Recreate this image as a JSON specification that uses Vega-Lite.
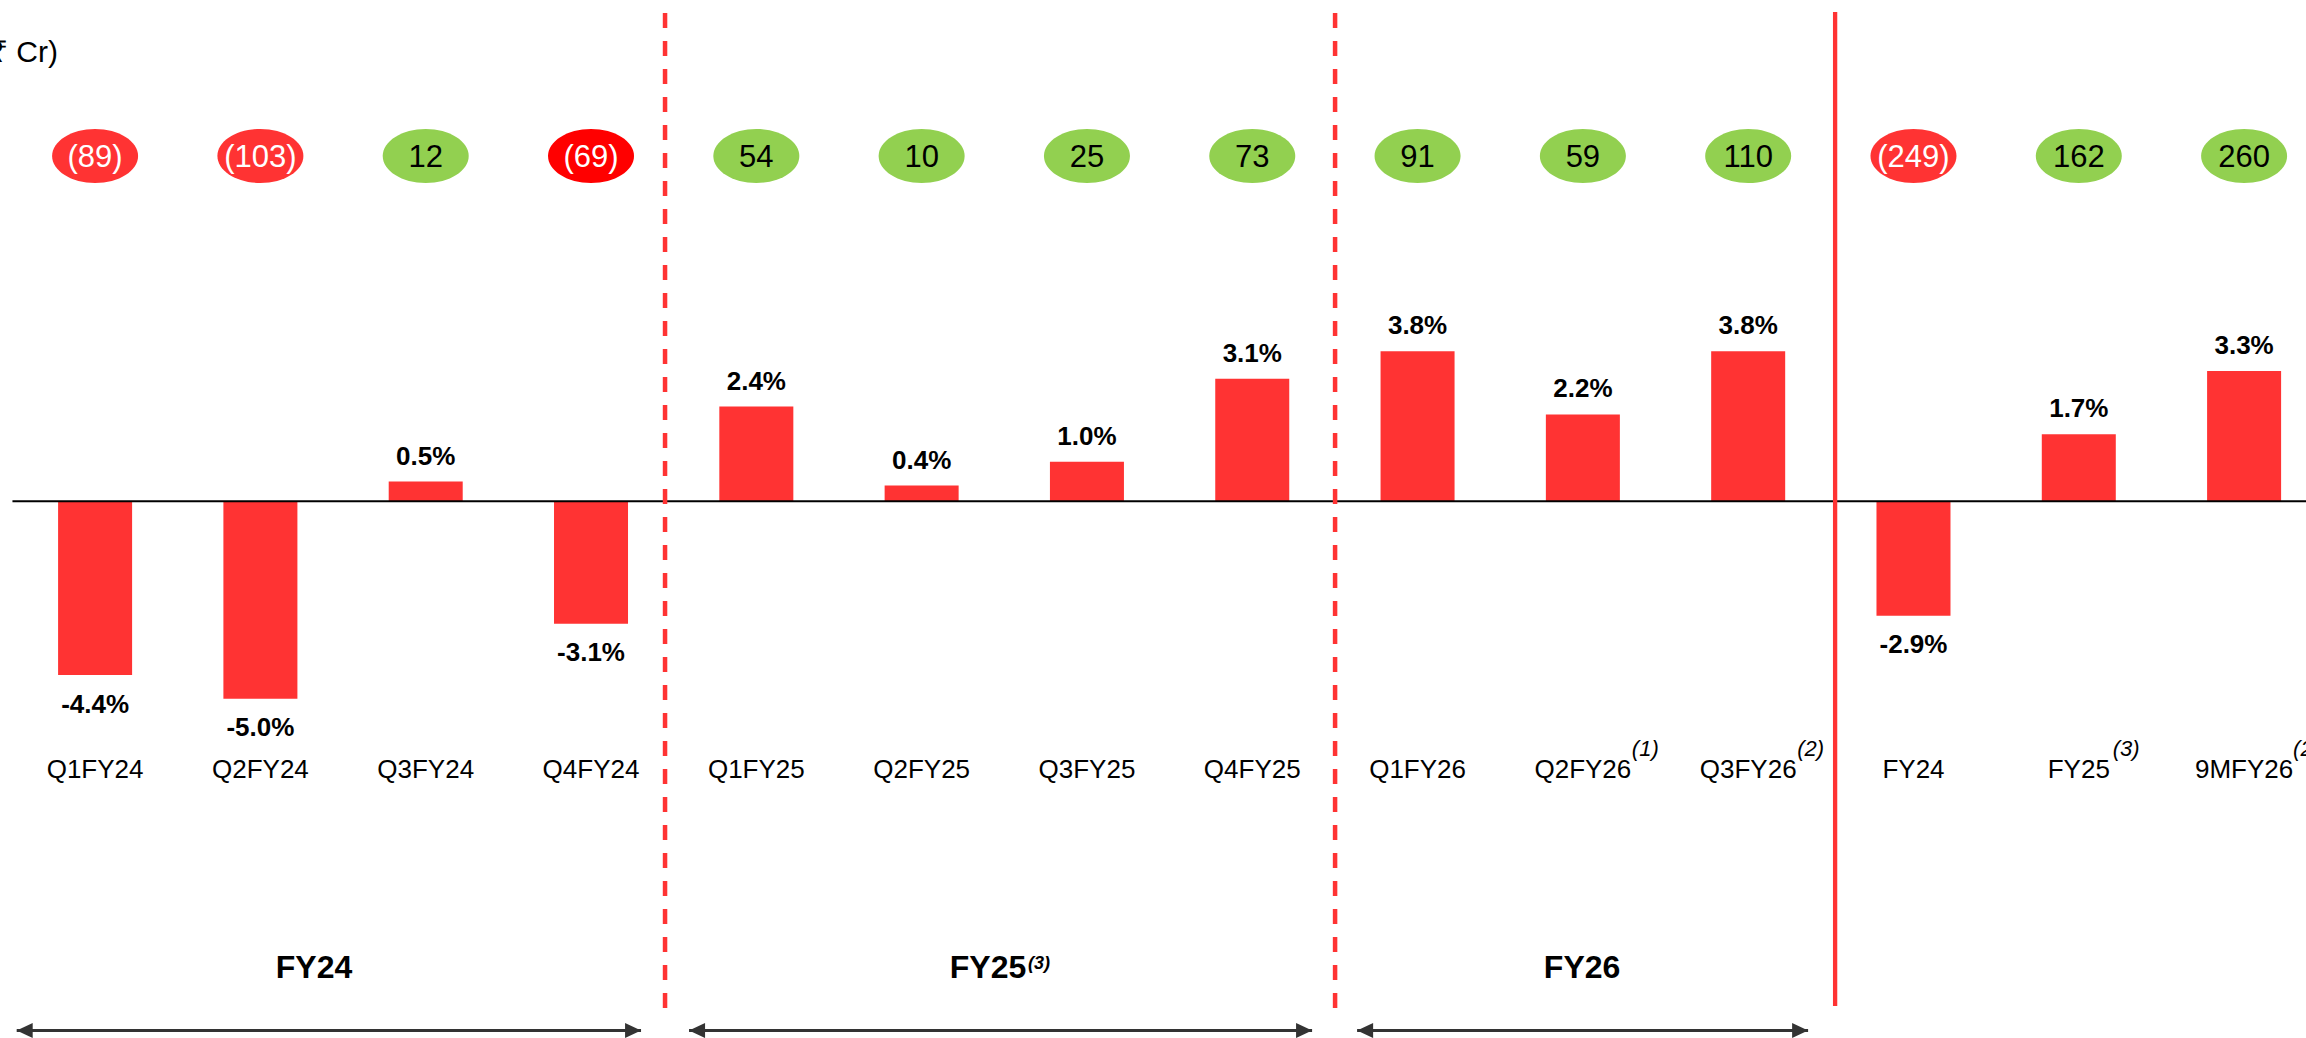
{
  "$schema": "https://vega.github.io/schema/vega-lite/v6.json",
  "width": 2306,
  "height": 1038,
  "autosize": {"type": "none"},
  "padding": 0,
  "background": "white",
  "config": {
    "view": {"stroke": null},
    "font": "Liberation Sans, Arial, sans-serif",
    "locale": {"number": {"decimal": ".", "thousands": ",", "grouping": [3], "currency": ["₹", ""], "minus": "-"}}
  },
  "datasets": {
    "quarters": [
      {"cat": "Q1FY24", "margin": -0.044, "ebitda": -89, "note": null},
      {"cat": "Q2FY24", "margin": -0.050, "ebitda": -103, "note": null},
      {"cat": "Q3FY24", "margin": 0.005, "ebitda": 12, "note": null},
      {"cat": "Q4FY24", "margin": -0.031, "ebitda": -69, "note": null},
      {"cat": "Q1FY25", "margin": 0.024, "ebitda": 54, "note": null},
      {"cat": "Q2FY25", "margin": 0.004, "ebitda": 10, "note": null},
      {"cat": "Q3FY25", "margin": 0.010, "ebitda": 25, "note": null},
      {"cat": "Q4FY25", "margin": 0.031, "ebitda": 73, "note": null},
      {"cat": "Q1FY26", "margin": 0.038, "ebitda": 91, "note": null},
      {"cat": "Q2FY26", "margin": 0.022, "ebitda": 59, "note": "(1)"},
      {"cat": "Q3FY26", "margin": 0.038, "ebitda": 110, "note": "(2)"},
      {"cat": "FY24", "margin": -0.029, "ebitda": -249, "note": null},
      {"cat": "FY25", "margin": 0.017, "ebitda": 162, "note": "(3)"},
      {"cat": "9MFY26", "margin": 0.033, "ebitda": 260, "note": "(2)"}
    ],
    "periods": [
      {"period": "FY24", "sup": null, "from": 0.0257, "to": 3.8025, "mid": 1.8243},
      {"period": "FY25", "sup": "(3)", "from": 4.0928, "to": 7.8618, "mid": 5.9017},
      {"period": "FY26", "sup": null, "from": 8.1341, "to": 10.8623, "mid": 9.4952}
    ],
    "dividers": [
      {"at": 3.9477, "kind": "dashed"},
      {"at": 8.0009, "kind": "dashed"},
      {"at": 11.0257, "kind": "solid"}
    ]
  },
  "resolve": {"scale": {"x": "independent"}},
  "layer": [
    {
      "data": {"name": "quarters"},
      "mark": {"type": "bar", "color": "#FF3333"},
      "encoding": {
        "x": {"field": "cat", "type": "nominal", "sort": null, "axis": null,
              "scale": {"type": "band", "domain": ["Q1FY24", "Q2FY24", "Q3FY24", "Q4FY24", "Q1FY25", "Q2FY25", "Q3FY25", "Q4FY25", "Q1FY26", "Q2FY26", "Q3FY26", "FY24", "FY25", "9MFY26"],
                        "paddingInner": 0.5523, "paddingOuter": 0.251, "align": 0.7}},
        "y": {"field": "margin", "type": "quantitative", "axis": null,
              "scale": {"domain": [-0.13587, 0.12691], "nice": false, "zero": false}},
        "y2": {"datum": 0}
      }
    },
    {
      "data": {"values": [{}]},
      "mark": {"type": "rule", "color": "#000000", "strokeWidth": 2},
      "encoding": {
        "x": {"datum": 0, "type": "quantitative", "axis": null,
              "scale": {"domain": [-0.07531, 13.8742], "nice": false, "zero": false}},
        "x2": {"datum": 13.8742},
        "y": {"datum": 0, "type": "quantitative", "axis": null,
              "scale": {"domain": [-0.13587, 0.12691], "nice": false, "zero": false}}
      }
    },
    {
      "data": {"name": "dividers"},
      "transform": [{"filter": "datum.kind === 'dashed'"}],
      "mark": {"type": "rule", "color": "#FF3333", "strokeWidth": 4.5, "strokeDash": [15, 13]},
      "encoding": {
        "x": {"field": "at", "type": "quantitative", "axis": null,
              "scale": {"domain": [-0.07531, 13.8742], "nice": false, "zero": false}},
        "y": {"datum": 0.12362, "type": "quantitative", "axis": null,
              "scale": {"domain": [-0.13587, 0.12691], "nice": false, "zero": false}},
        "y2": {"datum": -0.12853}
      }
    },
    {
      "data": {"name": "dividers"},
      "transform": [{"filter": "datum.kind === 'solid'"}],
      "mark": {"type": "rule", "color": "#FF3333", "strokeWidth": 4.3},
      "encoding": {
        "x": {"field": "at", "type": "quantitative", "axis": null,
              "scale": {"domain": [-0.07531, 13.8742], "nice": false, "zero": false}},
        "y": {"datum": 0.12387, "type": "quantitative", "axis": null,
              "scale": {"domain": [-0.13587, 0.12691], "nice": false, "zero": false}},
        "y2": {"datum": -0.12777}
      }
    },
    {
      "data": {"name": "quarters"},
      "transform": [{"filter": "datum.margin >= 0"}],
      "mark": {"type": "text", "fontSize": 26, "fontWeight": "bold", "baseline": "alphabetic", "align": "center", "dy": -17, "color": "#000000"},
      "encoding": {
        "x": {"field": "cat", "type": "nominal", "sort": null, "axis": null,
              "scale": {"type": "band", "domain": ["Q1FY24", "Q2FY24", "Q3FY24", "Q4FY24", "Q1FY25", "Q2FY25", "Q3FY25", "Q4FY25", "Q1FY26", "Q2FY26", "Q3FY26", "FY24", "FY25", "9MFY26"],
                        "paddingInner": 0.5523, "paddingOuter": 0.251, "align": 0.7}},
        "y": {"field": "margin", "type": "quantitative", "axis": null,
              "scale": {"domain": [-0.13587, 0.12691], "nice": false, "zero": false}},
        "text": {"field": "margin", "type": "quantitative", "format": ".1%"}
      }
    },
    {
      "data": {"name": "quarters"},
      "transform": [{"filter": "datum.margin < 0"}],
      "mark": {"type": "text", "fontSize": 26, "fontWeight": "bold", "baseline": "alphabetic", "align": "center", "dy": 37.5, "color": "#000000"},
      "encoding": {
        "x": {"field": "cat", "type": "nominal", "sort": null, "axis": null,
              "scale": {"type": "band", "domain": ["Q1FY24", "Q2FY24", "Q3FY24", "Q4FY24", "Q1FY25", "Q2FY25", "Q3FY25", "Q4FY25", "Q1FY26", "Q2FY26", "Q3FY26", "FY24", "FY25", "9MFY26"],
                        "paddingInner": 0.5523, "paddingOuter": 0.251, "align": 0.7}},
        "y": {"field": "margin", "type": "quantitative", "axis": null,
              "scale": {"domain": [-0.13587, 0.12691], "nice": false, "zero": false}},
        "text": {"field": "margin", "type": "quantitative", "format": ".1%"}
      }
    },
    {
      "data": {"name": "quarters"},
      "mark": {"type": "text", "fontSize": 26, "baseline": "alphabetic", "align": "center", "color": "#000000"},
      "encoding": {
        "x": {"field": "cat", "type": "nominal", "sort": null, "axis": null,
              "scale": {"type": "band", "domain": ["Q1FY24", "Q2FY24", "Q3FY24", "Q4FY24", "Q1FY25", "Q2FY25", "Q3FY25", "Q4FY25", "Q1FY26", "Q2FY26", "Q3FY26", "FY24", "FY25", "9MFY26"],
                        "paddingInner": 0.5523, "paddingOuter": 0.251, "align": 0.7}},
        "y": {"datum": -0.07005, "type": "quantitative", "axis": null,
              "scale": {"domain": [-0.13587, 0.12691], "nice": false, "zero": false}},
        "text": {"field": "cat", "type": "nominal"}
      }
    },
    {
      "data": {"name": "quarters"},
      "transform": [{"filter": "datum.note != null && datum.cat !== 'FY25'"}],
      "mark": {"type": "text", "fontSize": 22, "fontStyle": "italic", "baseline": "alphabetic", "align": "left", "dx": 49, "color": "#000000"},
      "encoding": {
        "x": {"field": "cat", "type": "nominal", "sort": null, "axis": null,
              "scale": {"type": "band", "domain": ["Q1FY24", "Q2FY24", "Q3FY24", "Q4FY24", "Q1FY25", "Q2FY25", "Q3FY25", "Q4FY25", "Q1FY26", "Q2FY26", "Q3FY26", "FY24", "FY25", "9MFY26"],
                        "paddingInner": 0.5523, "paddingOuter": 0.251, "align": 0.7}},
        "y": {"datum": -0.06448, "type": "quantitative", "axis": null,
              "scale": {"domain": [-0.13587, 0.12691], "nice": false, "zero": false}},
        "text": {"field": "note", "type": "nominal"}
      }
    },
    {
      "data": {"name": "quarters"},
      "transform": [{"filter": "datum.note != null && datum.cat === 'FY25'"}],
      "mark": {"type": "text", "fontSize": 22, "fontStyle": "italic", "baseline": "alphabetic", "align": "left", "dx": 34, "color": "#000000"},
      "encoding": {
        "x": {"field": "cat", "type": "nominal", "sort": null, "axis": null,
              "scale": {"type": "band", "domain": ["Q1FY24", "Q2FY24", "Q3FY24", "Q4FY24", "Q1FY25", "Q2FY25", "Q3FY25", "Q4FY25", "Q1FY26", "Q2FY26", "Q3FY26", "FY24", "FY25", "9MFY26"],
                        "paddingInner": 0.5523, "paddingOuter": 0.251, "align": 0.7}},
        "y": {"datum": -0.06448, "type": "quantitative", "axis": null,
              "scale": {"domain": [-0.13587, 0.12691], "nice": false, "zero": false}},
        "text": {"field": "note", "type": "nominal"}
      }
    },
    {
      "data": {"name": "quarters"},
      "mark": {"type": "point", "filled": true, "opacity": 1, "strokeWidth": 0, "size": 7396,
               "shape": "M-1,0A1,0.628,0,1,1,1,0A1,0.628,0,1,1,-1,0Z"},
      "encoding": {
        "x": {"field": "cat", "type": "nominal", "sort": null, "axis": null,
              "scale": {"type": "band", "domain": ["Q1FY24", "Q2FY24", "Q3FY24", "Q4FY24", "Q1FY25", "Q2FY25", "Q3FY25", "Q4FY25", "Q1FY26", "Q2FY26", "Q3FY26", "FY24", "FY25", "9MFY26"],
                        "paddingInner": 0.5523, "paddingOuter": 0.251, "align": 0.7}},
        "y": {"datum": 0.08742, "type": "quantitative", "axis": null,
              "scale": {"domain": [-0.13587, 0.12691], "nice": false, "zero": false}},
        "fill": {
          "condition": [
            {"test": "datum.cat === 'Q4FY24'", "value": "#FF0000"},
            {"test": "datum.ebitda < 0", "value": "#FF3333"}
          ],
          "value": "#92D050"
        }
      }
    },
    {
      "data": {"name": "quarters"},
      "mark": {"type": "text", "fontSize": 31, "baseline": "alphabetic", "align": "center"},
      "encoding": {
        "x": {"field": "cat", "type": "nominal", "sort": null, "axis": null,
              "scale": {"type": "band", "domain": ["Q1FY24", "Q2FY24", "Q3FY24", "Q4FY24", "Q1FY25", "Q2FY25", "Q3FY25", "Q4FY25", "Q1FY26", "Q2FY26", "Q3FY26", "FY24", "FY25", "9MFY26"],
                        "paddingInner": 0.5523, "paddingOuter": 0.251, "align": 0.7}},
        "y": {"datum": 0.08461, "type": "quantitative", "axis": null,
              "scale": {"domain": [-0.13587, 0.12691], "nice": false, "zero": false}},
        "text": {"field": "ebitda", "type": "quantitative", "format": "(d"},
        "color": {"condition": {"test": "datum.ebitda < 0", "value": "#FFFFFF"}, "value": "#000000"}
      }
    },
    {
      "data": {"values": [{"label": "₹ Cr)"}]},
      "mark": {"type": "text", "fontSize": 30, "baseline": "alphabetic", "align": "right", "color": "#000000"},
      "encoding": {
        "x": {"datum": 0.2756, "type": "quantitative", "axis": null,
              "scale": {"domain": [-0.07531, 13.8742], "nice": false, "zero": false}},
        "y": {"datum": 0.11129, "type": "quantitative", "axis": null,
              "scale": {"domain": [-0.13587, 0.12691], "nice": false, "zero": false}},
        "text": {"field": "label", "type": "nominal"}
      }
    },
    {
      "data": {"name": "periods"},
      "mark": {"type": "text", "fontSize": 32, "fontWeight": "bold", "baseline": "alphabetic", "align": "center", "color": "#000000"},
      "encoding": {
        "x": {"field": "mid", "type": "quantitative", "axis": null,
              "scale": {"domain": [-0.07531, 13.8742], "nice": false, "zero": false}},
        "y": {"datum": -0.12063, "type": "quantitative", "axis": null,
              "scale": {"domain": [-0.13587, 0.12691], "nice": false, "zero": false}},
        "text": {"field": "period", "type": "nominal"}
      }
    },
    {
      "data": {"name": "periods"},
      "transform": [{"filter": "datum.sup != null"}],
      "mark": {"type": "text", "fontSize": 18, "fontWeight": "bold", "fontStyle": "italic", "baseline": "alphabetic", "align": "left", "dx": 40, "color": "#000000"},
      "encoding": {
        "x": {"field": "mid", "type": "quantitative", "axis": null,
              "scale": {"domain": [-0.07531, 13.8742], "nice": false, "zero": false}},
        "y": {"datum": -0.1184, "type": "quantitative", "axis": null,
              "scale": {"domain": [-0.13587, 0.12691], "nice": false, "zero": false}},
        "text": {"field": "sup", "type": "nominal"}
      }
    },
    {
      "data": {"name": "periods"},
      "mark": {"type": "rule", "color": "#333333", "strokeWidth": 3},
      "encoding": {
        "x": {"field": "from", "type": "quantitative", "axis": null,
              "scale": {"domain": [-0.07531, 13.8742], "nice": false, "zero": false}},
        "x2": {"field": "to"},
        "y": {"datum": -0.13397, "type": "quantitative", "axis": null,
              "scale": {"domain": [-0.13587, 0.12691], "nice": false, "zero": false}}
      }
    },
    {
      "data": {"name": "periods"},
      "mark": {"type": "point", "filled": true, "opacity": 1, "strokeWidth": 0, "size": 256, "color": "#333333",
               "shape": "M0,0L2,-0.94L2,0.94Z"},
      "encoding": {
        "x": {"field": "from", "type": "quantitative", "axis": null,
              "scale": {"domain": [-0.07531, 13.8742], "nice": false, "zero": false}},
        "y": {"datum": -0.13397, "type": "quantitative", "axis": null,
              "scale": {"domain": [-0.13587, 0.12691], "nice": false, "zero": false}}
      }
    },
    {
      "data": {"name": "periods"},
      "mark": {"type": "point", "filled": true, "opacity": 1, "strokeWidth": 0, "size": 256, "color": "#333333",
               "shape": "M0,0L-2,-0.94L-2,0.94Z"},
      "encoding": {
        "x": {"field": "to", "type": "quantitative", "axis": null,
              "scale": {"domain": [-0.07531, 13.8742], "nice": false, "zero": false}},
        "y": {"datum": -0.13397, "type": "quantitative", "axis": null,
              "scale": {"domain": [-0.13587, 0.12691], "nice": false, "zero": false}}
      }
    }
  ]
}
